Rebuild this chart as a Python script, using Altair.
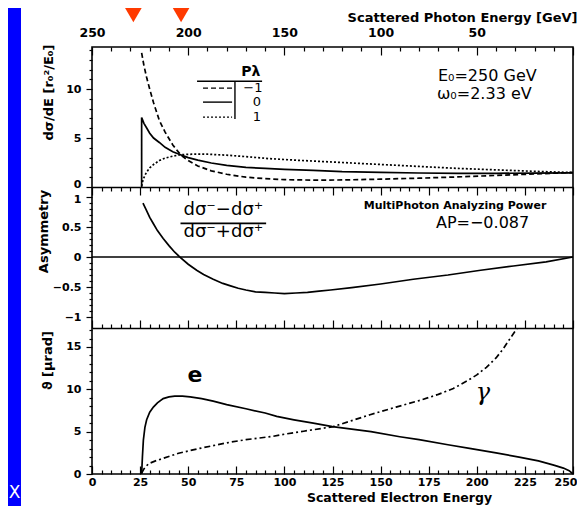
import altair as alt
import pandas as pd

# ---------------- data ----------------
# x of every panel: scattered electron energy [GeV]
# top panel: d sigma / dE   (P*lambda = -1 dashed, 0 solid, +1 dotted)
m1_E = [25.8, 27, 28.5, 30, 32, 35, 38, 42, 46, 50, 55, 62, 70, 80, 90, 100, 115, 130, 150, 170, 190, 210, 230, 250]
m1_v = [13.7, 12.4, 11.1, 10.0, 8.6, 6.8, 5.6, 4.3, 3.3, 2.7, 2.15, 1.65, 1.3, 1.0, 0.85, 0.75, 0.7, 0.72, 0.8, 0.9, 1.03, 1.18, 1.33, 1.48]
z_E = [25.8, 25.8, 27, 28.5, 30, 32, 35, 38, 42, 46, 50, 55, 62, 70, 80, 90, 100, 115, 130, 150, 170, 190, 210, 230, 250]
z_v = [0, 7.1, 6.5, 6.0, 5.5, 5.0, 4.55, 4.05, 3.6, 3.3, 3.0, 2.75, 2.45, 2.2, 2.0, 1.9, 1.8, 1.7, 1.57, 1.5, 1.43, 1.4, 1.4, 1.42, 1.45]
p1_E = [25.8, 26.5, 27.5, 28.5, 30, 32, 35, 38, 42, 46, 52, 60, 70, 80, 92, 105, 120, 135, 150, 170, 190, 210, 230, 250]
p1_v = [0.1, 0.7, 1.2, 1.55, 1.95, 2.3, 2.7, 2.95, 3.15, 3.3, 3.35, 3.35, 3.25, 3.1, 2.9, 2.75, 2.6, 2.45, 2.3, 2.1, 1.9, 1.75, 1.6, 1.48]

# middle panel: asymmetry
asym_E = [26.5, 28, 30, 32, 34, 37, 40, 43, 45.7, 50, 54.4, 58, 63, 68, 72, 76, 80, 85, 90, 95, 100, 106, 112, 118, 124, 135, 150, 167, 185, 202, 219, 236, 250]
asym_v = [0.9, 0.8, 0.66, 0.55, 0.44, 0.31, 0.19, 0.08, 0.0, -0.12, -0.22, -0.29, -0.37, -0.44, -0.48, -0.52, -0.55, -0.58, -0.59, -0.6, -0.61, -0.6, -0.59, -0.57, -0.55, -0.51, -0.45, -0.37, -0.3, -0.22, -0.15, -0.08, 0.0]

# bottom panel: angles [micro rad]
el_E = [25.8, 26.2, 26.7, 27.5, 28.4, 30, 31.9, 34, 37, 40, 43, 47, 51, 57, 63, 70, 80, 90, 96, 105, 115, 125, 135, 145, 160, 170, 185, 197, 210, 222, 232, 240, 245, 248, 250]
el_v = [0, 2.0, 4.0, 5.5, 6.4, 7.3, 7.9, 8.4, 8.9, 9.1, 9.2, 9.2, 9.1, 8.9, 8.6, 8.2, 7.7, 7.2, 6.8, 6.4, 6.0, 5.6, 5.3, 5.0, 4.4, 4.05, 3.45, 3.0, 2.5, 2.0, 1.55, 1.05, 0.7, 0.4, 0]
ph_E = [25.8, 27, 29.3, 33, 37, 45, 54.4, 63, 71.7, 80, 94, 100, 110, 125.4, 135, 144.5, 158, 170.5, 180, 187.8, 195, 200, 205, 210, 213.8, 217, 220.9]
ph_v = [0.1, 0.6, 1.2, 1.55, 1.85, 2.45, 2.95, 3.35, 3.75, 4.05, 4.45, 4.7, 5.05, 5.6, 6.3, 7.0, 7.9, 8.7, 9.4, 10.1, 11.0, 11.7, 12.6, 13.7, 14.8, 15.9, 17.2]

# red arrows on the top edge (electron energy)
arrow_E = [21.5, 46.3]

# tick positions
x_label_vals = [0, 25, 50, 75, 100, 125, 150, 175, 200, 225, 250]
x_tick_vals = list(range(0, 251, 5))
top_label_vals = [0, 50, 100, 150, 200]
top_tick_vals = list(range(0, 251, 10))
y1_ticks = list(range(0, 15))
y2_ticks = [-1.0, -0.9, -0.8, -0.7, -0.6, -0.5, -0.4, -0.3, -0.2, -0.1, 0.0,
            0.1, 0.2, 0.3, 0.4, 0.5, 0.6, 0.7, 0.8, 0.9, 1.0]
y3_ticks = list(range(0, 18))

# ---------------- scales ----------------
W, H = 481, 427
XS = alt.Scale(domain=[0, 250], nice=False, zero=False)
Y1 = alt.Scale(domain=[0, 14.3], range=[140, 0], nice=False, zero=False)
Y2 = alt.Scale(domain=[-1.183, 1.167], range=[281, 140], nice=False, zero=False)
Y3 = alt.Scale(domain=[0, 17.24], range=[427, 281], nice=False, zero=False)

FONT = "DejaVu Sans"


def cond(test, big, small):
    return {"condition": {"test": test, "value": big}, "value": small}


def line_layer(E, v, ys, dash=None, axis=None, width=1.7):
    df = pd.DataFrame({"E": E, "v": v, "o": list(range(len(E)))})
    kw = dict(color="black", strokeWidth=width)
    if dash is not None:
        kw["strokeDash"] = dash
    return alt.Chart(df).mark_line(**kw).encode(
        x=alt.X("E:Q", scale=XS, axis=None),
        y=alt.Y("v:Q", scale=ys, axis=axis),
        order="o:Q",
    )


def x_axis_layer(axis):
    df = pd.DataFrame({"E": [0, 250]})
    return alt.Chart(df).mark_point(opacity=0).encode(
        x=alt.X("E:Q", scale=XS, axis=axis), y=alt.value(0)
    )


def text_layer(x, y, text, ys, **kw):
    df = pd.DataFrame({"E": [x], "v": [y], "t": [text]})
    return alt.Chart(df).mark_text(color="black", **kw).encode(
        x=alt.X("E:Q", scale=XS, axis=None),
        y=alt.Y("v:Q", scale=ys, axis=None),
        text="t:N",
    )


def seg_layer(x1, x2, y1, y2, ys, dash=None, width=1.4):
    df = pd.DataFrame({"E": [x1], "E2": [x2], "v": [y1], "v2": [y2]})
    kw = dict(color="black", strokeWidth=width)
    if dash is not None:
        kw["strokeDash"] = dash
    return alt.Chart(df).mark_rule(**kw).encode(
        x=alt.X("E:Q", scale=XS, axis=None), x2="E2:Q",
        y=alt.Y("v:Q", scale=ys, axis=None), y2="v2:Q",
    )


# ---------------- y axes ----------------
ax_y1 = alt.Axis(orient="left", values=y1_ticks, labelOverlap=False,
                 labelExpr="datum.value % 5 === 0 ? datum.label : ''",
                 labelOffset=cond("datum.value === 0", -3, 0),
                 tickSize=cond("datum.value % 5 === 0", 6, 3),
                 labelPadding=5, domain=False, grid=False,
                 title="dσ/dE  [r₀²/E₀]", titleX=-44, titleY=45,
                 titleBaseline="middle", titleAlign="center")
ax_y2 = alt.Axis(orient="left", values=y2_ticks, labelOverlap=False, format="~g",
                 labelExpr="abs(datum.value*2 - round(datum.value*2)) < 0.001 ? datum.label : ''",
                 labelOffset=cond("datum.value === 1", 2, 0),
                 tickSize=cond("abs(datum.value*2 - round(datum.value*2)) < 0.001", 6, 3),
                 labelPadding=5, domain=False, grid=False,
                 title="Asymmetry", titleX=-49, titleY=184,
                 titleBaseline="middle", titleAlign="center")
ax_y3 = alt.Axis(orient="left", values=y3_ticks, labelOverlap=False,
                 labelExpr="datum.value % 5 === 0 ? datum.label : ''",
                 tickSize=cond("datum.value % 5 === 0", 6, 3),
                 labelPadding=5, domain=False, grid=False,
                 title="ϑ [μrad]", titleX=-45, titleY=313,
                 titleBaseline="middle", titleAlign="center")

# ---------------- x axes ----------------
ax_bottom_labels = alt.Axis(orient="bottom", values=x_label_vals, ticks=False, tickSize=0,
                            domain=False, grid=False, labelPadding=2, labelFlush=False,
                            labelOverlap=False,
                            labelAlign=cond("datum.value === 250", "right", "center"),
                            labelOffset=cond("datum.value === 250", 4, 0),
                            title="Scattered Electron Energy", titleX=307, titleY=23.5,
                            titleFontSize=12.5,
                            titleAlign="center", titleBaseline="middle")
ax_bottom_ticks = alt.Axis(orient="top", offset=-H, values=x_tick_vals, labels=False,
                           domain=False, grid=False, title=None,
                           tickSize=cond("datum.value % 25 === 0", 8, 4))
ax_top_labels = alt.Axis(orient="top", values=top_label_vals, ticks=False, tickSize=0,
                         domain=False, grid=False, labelPadding=8, labelFlush=False,
                         labelOverlap=False, labelExpr="toString(250 - datum.value)",
                         labelFontSize=12.5,
                         title="Scattered Photon Energy [GeV]", titleX=485, titleY=-30,
                         titleAlign="right", titleBaseline="middle")
ax_top_ticks = alt.Axis(orient="bottom", offset=-H, values=top_tick_vals, labels=False,
                        domain=False, grid=False, title=None,
                        tickSize=cond("datum.value % 50 === 0", 8, 4))
ax_b1 = alt.Axis(orient="bottom", offset=-(H - 140), values=x_tick_vals, labels=False,
                 domain=True, grid=False, title=None,
                 tickSize=cond("datum.value % 25 === 0", 8, 4))
ax_b2 = alt.Axis(orient="top", offset=-281, values=x_tick_vals, labels=False,
                 domain=True, grid=False, title=None,
                 tickSize=cond("datum.value % 25 === 0", 8, 4))

# ---------------- layers ----------------
layers = []

# decoration outside the frame
blue = alt.Chart(pd.DataFrame({"k": [0]})).mark_rect(color="#0000FF").encode(
    x=alt.value(-84), x2=alt.value(-71), y=alt.value(-39), y2=alt.value(459))
xmark = alt.Chart(pd.DataFrame({"k": [0]})).mark_text(
    text="X", color="white", fontSize=17, font=FONT, baseline="middle", align="center"
).encode(x=alt.value(-77.5), y=alt.value(446))
arrows = alt.Chart(pd.DataFrame({"E": arrow_E})).mark_point(
    shape="triangle-down", filled=True, size=290, color="#FF3A00", opacity=1
).encode(x=alt.X("E:Q", scale=XS, axis=None), y=alt.value(-32))
layers += [blue, xmark, arrows]

# x axes
for ax in [ax_bottom_labels, ax_bottom_ticks, ax_top_labels, ax_top_ticks, ax_b1, ax_b2]:
    layers.append(x_axis_layer(ax))

# top panel
layers.append(line_layer(z_E, z_v, Y1, axis=ax_y1))
layers.append(line_layer(m1_E, m1_v, Y1, dash=[5, 3]))
layers.append(line_layer(p1_E, p1_v, Y1, dash=[2, 2]))
# legend in top panel
layers.append(text_layer(82.6, 11.75, "Pλ", Y1, font=FONT, fontSize=14, fontWeight="bold",
                         align="center", baseline="middle"))
layers.append(seg_layer(54.6, 88.4, 10.8, 10.8, Y1))
layers.append(seg_layer(74.3, 74.3, 10.8, 6.94, Y1))
layers.append(seg_layer(57.7, 72.8, 10.1, 10.1, Y1, dash=[5, 3]))
layers.append(seg_layer(57.7, 72.8, 8.67, 8.67, Y1))
layers.append(seg_layer(57.7, 72.8, 7.14, 7.14, Y1, dash=[2, 2]))
layers.append(text_layer(88.6, 10.15, "−1", Y1, font=FONT, fontSize=13, align="right", baseline="middle"))
layers.append(text_layer(87.8, 8.7, "0", Y1, font=FONT, fontSize=13, align="right", baseline="middle"))
layers.append(text_layer(87.8, 7.14, "1", Y1, font=FONT, fontSize=13, align="right", baseline="middle"))
layers.append(text_layer(179.8, 11.3, "E₀=250 GeV", Y1, font=FONT, fontSize=16, align="left", baseline="middle"))
layers.append(text_layer(179.3, 9.45, "ω₀=2.33 eV", Y1, font=FONT, fontSize=16, align="left", baseline="middle"))

# middle panel
layers.append(line_layer(asym_E, asym_v, Y2, axis=ax_y2))
zero = alt.Chart(pd.DataFrame({"v": [0]})).mark_rule(color="black", strokeWidth=1.5).encode(
    y=alt.Y("v:Q", scale=Y2, axis=None))
layers.append(zero)
layers.append(text_layer(68.3, 0.78, "dσ⁻−dσ⁺", Y2, font=FONT, fontSize=18, align="center", baseline="middle"))
layers.append(seg_layer(46.0, 90.5, 0.56, 0.56, Y2, width=1.6))
layers.append(text_layer(68.3, 0.41, "dσ⁻+dσ⁺", Y2, font=FONT, fontSize=18, align="center", baseline="middle"))
layers.append(text_layer(188.7, 0.85, "MultiPhoton Analyzing Power", Y2, font=FONT, fontSize=11,
                         fontWeight="bold", align="center", baseline="middle"))
layers.append(text_layer(203.0, 0.567, "AP=−0.087", Y2, font=FONT, fontSize=16, align="center", baseline="middle"))

# bottom panel
layers.append(line_layer(el_E, el_v, Y3, axis=ax_y3))
layers.append(line_layer(ph_E, ph_v, Y3, dash=[6, 3, 2, 3]))
layers.append(text_layer(53.5, 11.7, "e", Y3, font=FONT, fontSize=22, fontWeight="bold",
                         align="center", baseline="middle"))
layers.append(text_layer(203.2, 9.56, "γ", Y3, font="DejaVu Serif", fontSize=24, fontStyle="italic",
                         align="center", baseline="middle"))

chart = (
    alt.layer(*layers)
    .resolve_scale(y="independent")
    .resolve_axis(x="independent", y="independent")
    .properties(width=W, height=H,
                autosize=alt.AutoSizeParams(type="none"),
                padding={"left": 84, "top": 39, "right": 4, "bottom": 32})
    .configure(background="white")
    .configure_view(stroke="black", strokeWidth=1.6)
    .configure_axis(
        labelFont=FONT, labelFontSize=11, labelFontWeight="bold", labelColor="black",
        titleFont=FONT, titleFontSize=13, titleFontWeight="bold", titleColor="black",
        tickColor="black", tickWidth=1.2, domainColor="black", domainWidth=1.6,
    )
)

chart.save("out.html", embed_options={"renderer": "svg", "actions": False})
